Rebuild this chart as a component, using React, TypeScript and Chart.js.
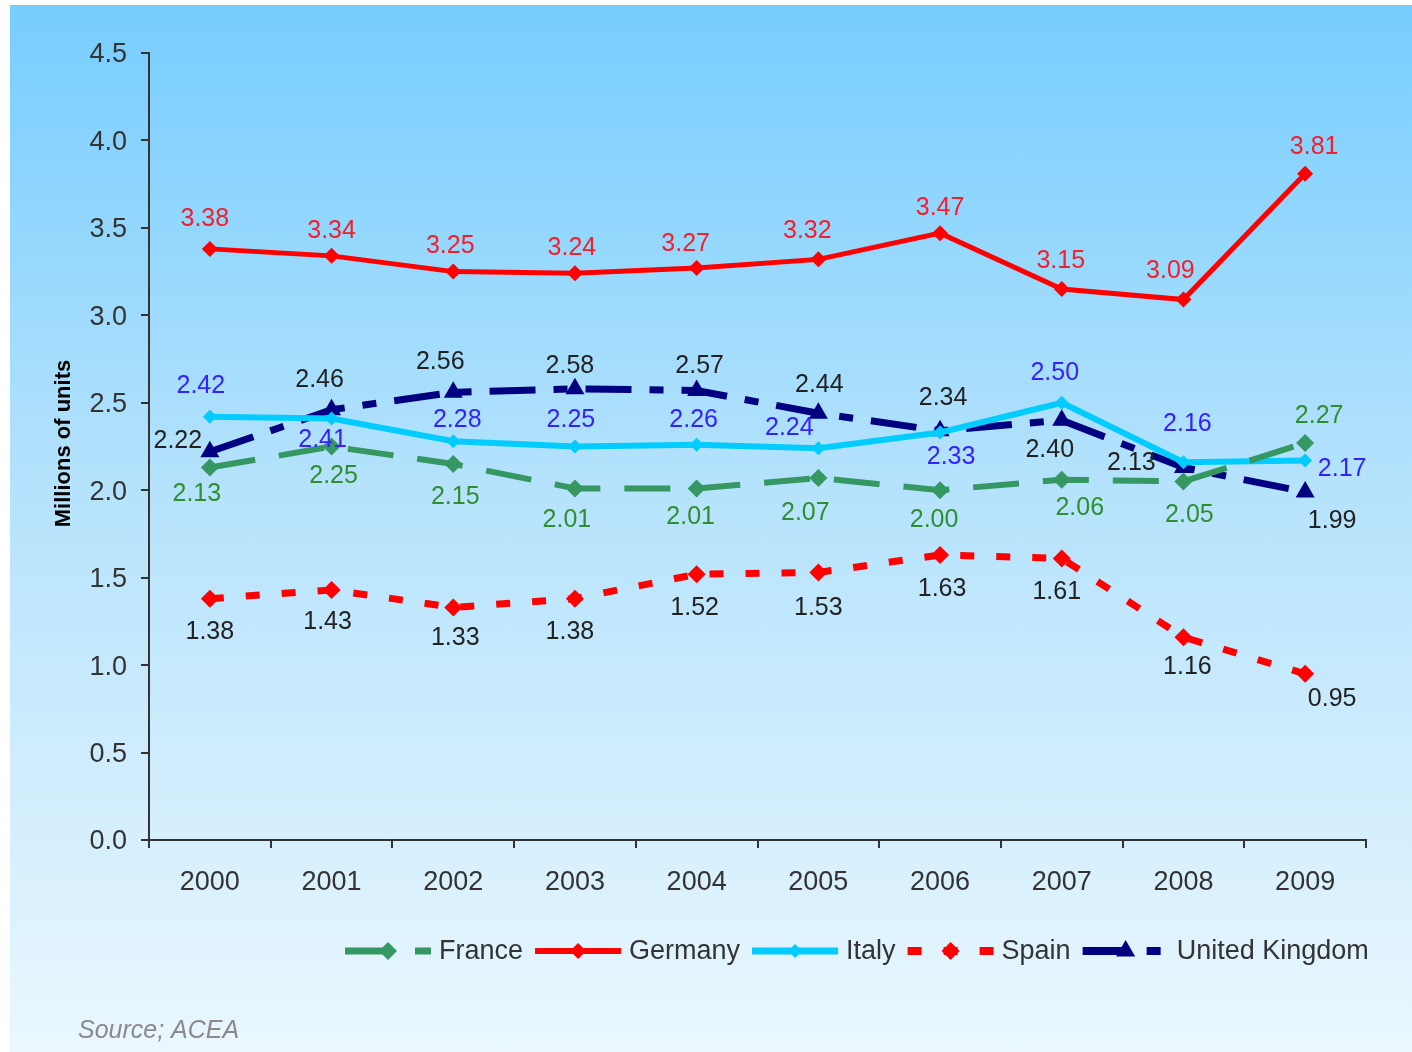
import React, { useEffect, useRef } from 'react';
import { Chart, registerables } from 'chart.js';

Chart.register(...registerables);

const years = ['2000', '2001', '2002', '2003', '2004', '2005', '2006', '2007', '2008', '2009'];
const france = [2.13, 2.25, 2.15, 2.01, 2.01, 2.07, 2.0, 2.06, 2.05, 2.27];
const germany = [3.38, 3.34, 3.25, 3.24, 3.27, 3.32, 3.47, 3.15, 3.09, 3.81];
const italy = [2.42, 2.41, 2.28, 2.25, 2.26, 2.24, 2.33, 2.5, 2.16, 2.17];
const spain = [1.38, 1.43, 1.33, 1.38, 1.52, 1.53, 1.63, 1.61, 1.16, 0.95];
const uk = [2.22, 2.46, 2.56, 2.58, 2.57, 2.44, 2.34, 2.4, 2.13, 1.99];

const yMin = 0;
const yMax = 4.5;
const yStep = 0.5;
const yTitle = 'Millions of units';
const sourceText = 'Source; ACEA';

// label placement nudges (dx, dy in px from the point)
const franceLabelPos = [[-13, 27], [2, 30], [2, 33], [-8, 32], [-6, 29], [-13, 35], [-6, 30], [18, 28], [6, 34], [14, -27]];
const germanyLabelPos = [[-5, -30], [0, -25], [-3, -26], [-3, -25], [-11, -24], [-11, -28], [0, -25], [-1, -28], [-13, -28], [9, -27]];
const italyLabelPos = [[-9, -31], [-9, 22], [4, -21], [-4, -26], [-3, -25], [-29, -20], [11, 25], [-7, -30], [4, -38], [37, 9]];
const spainLabelPos = [[0, 33], [-4, 32], [2, 31], [-5, 33], [-2, 34], [0, 36], [2, 34], [-5, 34], [4, 30], [27, 25]];
const ukLabelPos = [[-32, -11], [-12, -30], [-13, -30], [-5, -23], [3, -24], [1, -28], [3, -33], [-12, 30], [-52, -4], [27, 29]];

const FONT = "'Liberation Sans', Arial, Helvetica, sans-serif";

const W = 1402;
const H = 1047;

type SeriesDef = {
  label: string;
  data: number[];
  color: string;
  labelColor: string;
  width: number;
  dash: number[];
  style: 'rectRot' | 'triangle';
  radius: number;
  pos: number[][];
};

const series: SeriesDef[] = [
  { label: 'France', data: france, color: '#359863', labelColor: '#2f8f2f', width: 6, dash: [46, 24], style: 'rectRot', radius: 9, pos: franceLabelPos },
  { label: 'Germany', data: germany, color: '#ff0000', labelColor: '#f0202c', width: 5, dash: [], style: 'rectRot', radius: 8, pos: germanyLabelPos },
  { label: 'Italy', data: italy, color: '#00ccff', labelColor: '#3322ff', width: 6, dash: [], style: 'rectRot', radius: 7, pos: italyLabelPos },
  { label: 'Spain', data: spain, color: '#ff0000', labelColor: '#222222', width: 7, dash: [14, 22], style: 'rectRot', radius: 9, pos: spainLabelPos },
  { label: 'United Kingdom', data: uk, color: '#000080', labelColor: '#222222', width: 7, dash: [46, 18, 14, 18], style: 'triangle', radius: 11, pos: ukLabelPos },
];

function drawMarker(ctx: CanvasRenderingContext2D, style: string, x: number, y: number, r: number, color: string) {
  ctx.save();
  ctx.fillStyle = color;
  ctx.beginPath();
  if (style === 'triangle') {
    const h = r * Math.sqrt(3) / 2;
    ctx.moveTo(x, y - r);
    ctx.lineTo(x + h, y + r / 2);
    ctx.lineTo(x - h, y + r / 2);
  } else {
    ctx.moveTo(x - r, y);
    ctx.lineTo(x, y - r);
    ctx.lineTo(x + r, y);
    ctx.lineTo(x, y + r);
  }
  ctx.closePath();
  ctx.fill();
  ctx.restore();
}

const labelsPlugin = {
  id: 'valueLabels',
  afterDatasetsDraw(chart: any) {
    const ctx: CanvasRenderingContext2D = chart.ctx;
    ctx.save();
    ctx.font = `25px ${FONT}`;
    ctx.textAlign = 'center';
    ctx.textBaseline = 'middle';
    chart.data.datasets.forEach((ds: any, i: number) => {
      const meta = chart.getDatasetMeta(i);
      const s = series[i];
      ctx.fillStyle = s.labelColor;
      meta.data.forEach((el: any, j: number) => {
        const v = ds.data[j] as number;
        const p = s.pos[j];
        ctx.fillText(v.toFixed(2), el.x + p[0], el.y + p[1]);
      });
    });
    ctx.restore();
  },
};

const decorPlugin = {
  id: 'decor',
  afterDraw(chart: any) {
    const ctx: CanvasRenderingContext2D = chart.ctx;
    const area = chart.chartArea;
    // y axis title
    ctx.save();
    ctx.translate(54, (area.top + area.bottom) / 2 - 3);
    ctx.rotate(-Math.PI / 2);
    ctx.font = `bold 22px ${FONT}`;
    ctx.fillStyle = '#000000';
    ctx.textAlign = 'center';
    ctx.textBaseline = 'middle';
    ctx.fillText(yTitle, 0, 0);
    ctx.restore();

    // legend
    ctx.save();
    ctx.font = `27px ${FONT}`;
    const lineLen = 86;
    const gapAfterLine = 8;
    const gapAfterText = 12;
    let x = 335;
    const ly = 946;
    series.forEach((s) => {
      ctx.save();
      ctx.strokeStyle = s.color;
      ctx.lineWidth = s.width + 1;
      ctx.setLineDash(s.dash);
      ctx.beginPath();
      ctx.moveTo(x, ly);
      ctx.lineTo(x + lineLen, ly);
      ctx.stroke();
      ctx.restore();
      drawMarker(ctx, s.style, x + lineLen / 2, ly, s.radius, s.color);
      x += lineLen + gapAfterLine;
      ctx.fillStyle = '#333333';
      ctx.textAlign = 'left';
      ctx.textBaseline = 'middle';
      ctx.fillText(s.label, x, ly + 1);
      x += ctx.measureText(s.label).width + gapAfterText;
    });
    ctx.restore();

    // source
    ctx.save();
    ctx.font = `italic 25px ${FONT}`;
    ctx.fillStyle = '#8a8a8a';
    ctx.textAlign = 'left';
    ctx.textBaseline = 'middle';
    ctx.fillText(sourceText, 68, 1026);
    ctx.restore();
  },
};

export default function App() {
  const ref = useRef<HTMLCanvasElement | null>(null);

  useEffect(() => {
    if (!ref.current) return;
    Chart.defaults.font.family = FONT;
    const chart = new Chart(ref.current, {
      type: 'line',
      data: {
        labels: years,
        datasets: series.map((s) => ({
          label: s.label,
          data: s.data,
          borderColor: s.color,
          backgroundColor: s.color,
          borderWidth: s.width,
          borderDash: s.dash,
          borderCapStyle: 'butt',
          pointStyle: s.style,
          pointRadius: s.radius,
          pointBorderWidth: 0,
          pointBackgroundColor: s.color,
          pointBorderColor: s.color,
          tension: 0,
          fill: false,
        })),
      },
      options: {
        responsive: false,
        animation: false,
        devicePixelRatio: 1,
        layout: { padding: { left: 0, top: 48, right: 46, bottom: 150 } },
        plugins: {
          legend: { display: false },
          tooltip: { enabled: false },
        },
        scales: {
          x: {
            type: 'category',
            offset: true,
            grid: {
              offset: true,
              drawOnChartArea: false,
              drawTicks: true,
              tickLength: 8,
              color: '#333333',
              lineWidth: 2,
            },
            border: { display: true, color: '#333333', width: 2 },
            ticks: {
              color: '#333333',
              font: { size: 27, family: FONT },
              padding: 18,
              maxRotation: 0,
            },
            afterFit: (scale: any) => {
              scale.height = 62;
            },
          },
          y: {
            min: yMin,
            max: yMax,
            grid: {
              drawOnChartArea: false,
              drawTicks: true,
              tickLength: 8,
              color: '#333333',
              lineWidth: 2,
            },
            border: { display: true, color: '#333333', width: 2 },
            ticks: {
              stepSize: yStep,
              color: '#333333',
              font: { size: 27, family: FONT },
              padding: 14,
              labelOffset: 2,
              callback: (v: any) => Number(v).toFixed(1),
            },
            afterFit: (scale: any) => {
              scale.width = 139;
            },
          },
        },
      } as any,
      plugins: [labelsPlugin, decorPlugin],
    });
    return () => chart.destroy();
  }, []);

  return (
    <div
      style={{
        position: 'absolute',
        left: 10,
        top: 5,
        width: W,
        height: H,
        background: 'linear-gradient(to bottom, #76cdff 0%, #b4e2fc 45%, #eaf7fe 100%)',
      }}
    >
      <canvas ref={ref} width={W} height={H} style={{ display: 'block', width: W, height: H }} />
    </div>
  );
}
